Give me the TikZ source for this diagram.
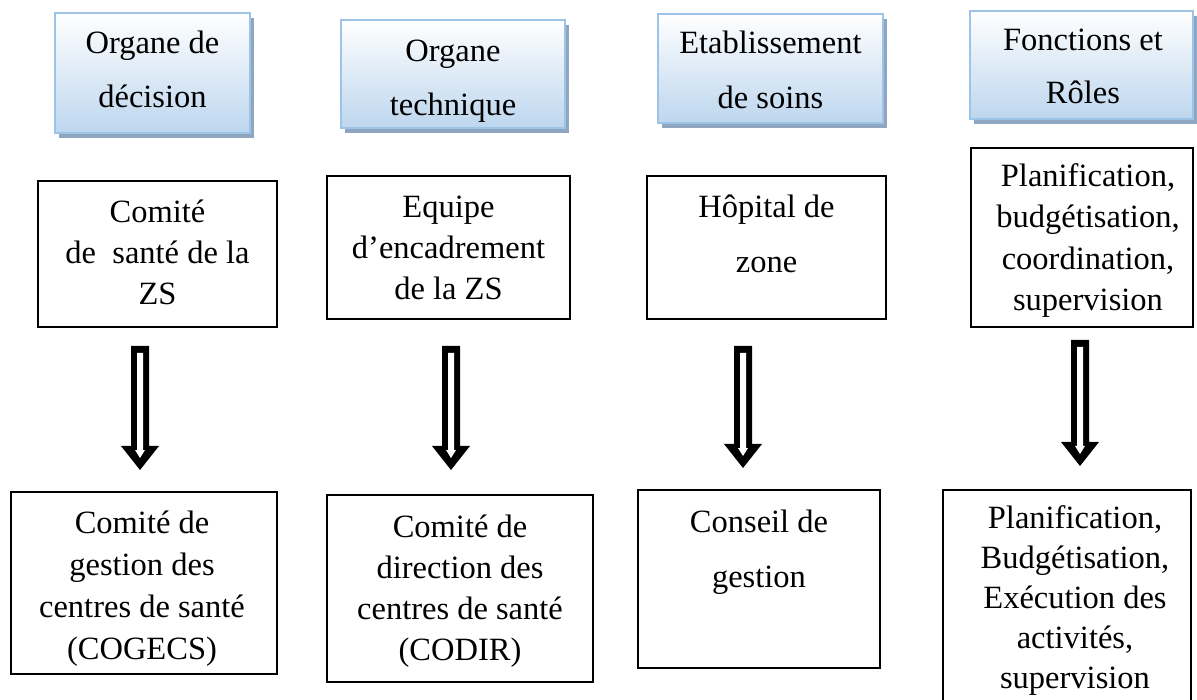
\documentclass[tikz,border=0pt]{standalone}
\usepackage{fontspec}
\setmainfont{Liberation Serif}
\usetikzlibrary{shadows,calc}
\definecolor{tborder}{RGB}{157,195,230}
\definecolor{tbottom}{RGB}{189,214,238}
\definecolor{tshadow}{RGB}{143,166,193}
\newcommand\myfl{\rule{0pt}{25pt}}
\newcommand\blockarrow[2]{%
  \fill[black] let \p1=(#1), \p2=(#2) in
    ({\x1-9pt},\y1) -- ({\x1+9pt},\y1) -- ({\x1+9pt},{\y2+24pt}) -- ({\x1+19pt},{\y2+24pt})
    -- (\x1,\y2) -- ({\x1-19pt},{\y2+24pt}) -- ({\x1-9pt},{\y2+24pt}) -- cycle;
  \fill[white] let \p1=(#1), \p2=(#2) in
    ({\x1-3pt},{\y1-7pt}) -- ({\x1+3pt},{\y1-7pt}) -- ({\x1+3pt},{\y2+20pt}) -- ({\x1+5pt},{\y2+20pt})
    -- (\x1,{\y2+12pt}) -- ({\x1-5pt},{\y2+20pt}) -- ({\x1-3pt},{\y2+20pt}) -- cycle;
}
\tikzset{
  topbox/.style={rectangle, draw=tborder, line width=1.8pt, top color=white, bottom color=tbottom,
    general shadow={fill=tshadow, shadow xshift=4pt, shadow yshift=-5pt}, inner sep=0pt, outer sep=0pt},
  plainbox/.style={rectangle, draw=black, line width=1.4pt, fill=white, inner sep=0pt, outer sep=0pt},
  boxtext/.style={anchor=north, align=center, inner sep=0pt, font=\fontsize{32.5}{#1}\selectfont},
  boxtext/.default=41
}
\begin{document}
\begin{tikzpicture}[x=1pt,y=-1pt]
\useasboundingbox (0,0) rectangle (1197,700);
% top header boxes
\node[topbox, minimum width=195pt, minimum height=120pt] (t1) at (152.5,73) {};
\node[topbox, minimum width=224pt, minimum height=108pt] (t2) at (453,74) {};
\node[topbox, minimum width=225pt, minimum height=109pt] (t3) at (770.5,68.5) {};
\node[topbox, minimum width=223pt, minimum height=108pt] (t4) at (1081.5,65) {};
\node[boxtext=54] (t1t) at (152.5,28) {\myfl Organe de\\décision};
\node[boxtext=54] (t2t) at (453,36) {\myfl Organe\\technique};
\node[boxtext=55] (t3t) at (770.5,28) {\myfl Etablissement\\de soins};
\node[boxtext=53] (t4t) at (1083,25) {\myfl Fonctions et\\Rôles};
% middle boxes
\node[plainbox, minimum width=239pt, minimum height=146pt] (m1) at (157.5,254) {};
\node[plainbox, minimum width=243pt, minimum height=143pt] (m2) at (448.5,247.5) {};
\node[plainbox, minimum width=239pt, minimum height=143pt] (m3) at (766.5,247.5) {};
\node[plainbox, minimum width=222pt, minimum height=179pt] (m4) at (1082,237.5) {};
\node[boxtext=41] (m1t) at (157.5,197) {\myfl Comité\\de\ \ santé de la\\ZS};
\node[boxtext=41] (m2t) at (448.5,192) {\myfl Equipe\\d’encadrement\\de la ZS};
\node[boxtext=55] (m3t) at (766.5,192) {\myfl Hôpital de\\zone};
\node[boxtext=41.5] (m4t) at (1088,161) {\myfl Planification,\\budgétisation,\\coordination,\\supervision};
% arrows
\coordinate (a1s) at (140,346); \coordinate (a1e) at (140,470);
\coordinate (a2s) at (451,346); \coordinate (a2e) at (451,470);
\coordinate (a3s) at (743,346); \coordinate (a3e) at (743,468);
\coordinate (a4s) at (1080,340); \coordinate (a4e) at (1080,466);
\blockarrow{a1s}{a1e}
\blockarrow{a2s}{a2e}
\blockarrow{a3s}{a3e}
\blockarrow{a4s}{a4e}
% bottom boxes
\node[plainbox, minimum width=266pt, minimum height=182pt] (b1) at (144,583) {};
\node[plainbox, minimum width=266pt, minimum height=187pt] (b2) at (460,588.5) {};
\node[plainbox, minimum width=242pt, minimum height=178pt] (b3) at (759,579) {};
\node[plainbox, minimum width=248pt, minimum height=220pt] (b4) at (1067,600) {};
\node[boxtext=42] (b1t) at (142,508) {\myfl Comité de\\gestion des\\centres de santé\\(COGECS)};
\node[boxtext=41] (b2t) at (460,512) {\myfl Comité de\\direction des\\centres de santé\\(CODIR)};
\node[boxtext=55] (b3t) at (759,507) {\myfl Conseil de\\gestion};
\node[boxtext=40] (b4t) at (1075,503) {\myfl Planification,\\Budgétisation,\\Exécution des\\activités,\\supervision};
\end{tikzpicture}
\end{document}
